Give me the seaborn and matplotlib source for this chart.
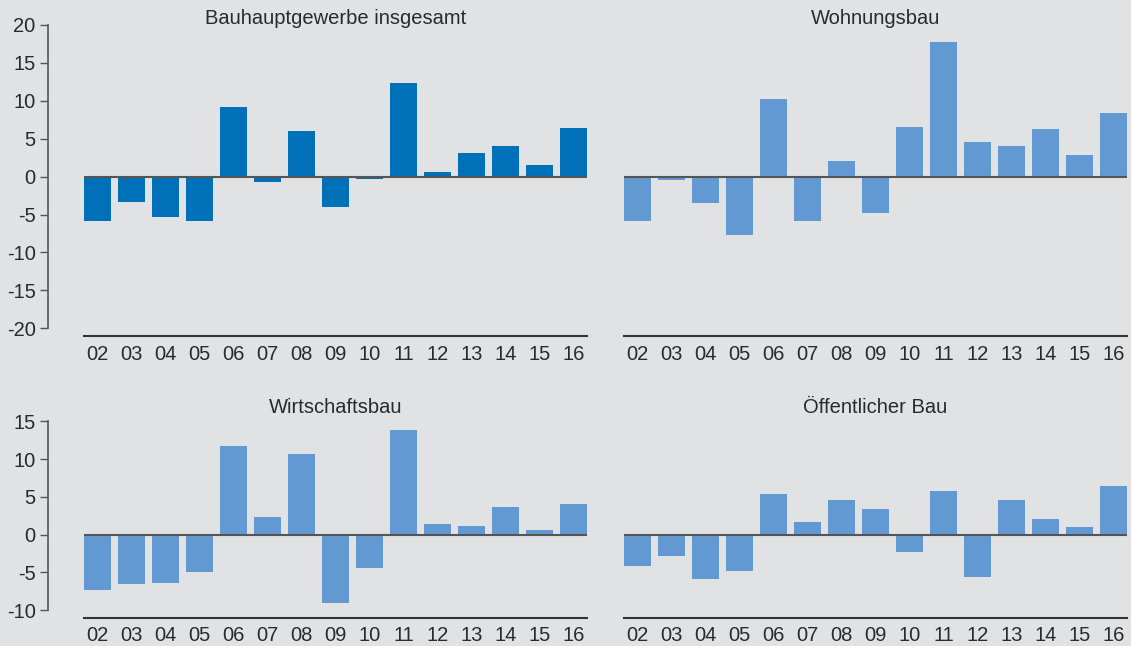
import matplotlib.pyplot as plt
import seaborn as sns

# Jahre (20xx)
years = ['02', '03', '04', '05', '06', '07', '08', '09', '10', '11', '12', '13', '14', '15', '16']

# Veraenderung gegenueber Vorjahr in %
bauhauptgewerbe = [-5.9, -3.4, -5.3, -5.85, 9.2, -0.7, 6.0, -4.05, -0.35, 12.4, 0.6, 3.1, 4.1, 1.6, 6.4]
wohnungsbau = [-5.9, -0.4, -3.5, -7.7, 10.2, -5.8, 2.1, -4.8, 6.6, 17.7, 4.6, 4.0, 6.3, 2.9, 8.4]
wirtschaftsbau = [-7.3, -6.5, -6.4, -4.9, 11.7, 2.3, 10.7, -9.1, -4.4, 13.9, 1.45, 1.2, 3.6, 0.66, 4.0]
oeffentlicher_bau = [-4.2, -2.8, -5.8, -4.8, 5.4, 1.7, 4.6, 3.4, -2.25, 5.8, -5.55, 4.6, 2.1, 1.06, 6.5]

bg = '#e1e2e4'
dark_blue = '#0070b8'
light_blue = '#6399d2'
text_col = '#2a2a2a'

sns.set_theme(style='white')
plt.rcParams['font.family'] = ['Liberation Sans', 'DejaVu Sans']
plt.rcParams['axes.unicode_minus'] = False

fig = plt.figure(figsize=(11.31, 6.46), dpi=100, facecolor=bg)

W, H = 1131, 646
ax_w = 503 / W

# panels: (values, title, color, left px, top px, bottom px, ylim, yticks, show y axis, title pad, xlabel pad)
panels = [
    (bauhauptgewerbe, 'Bauhauptgewerbe insgesamt', dark_blue, 84, 25.0, 335.9, (-21, 20), range(-20, 21, 5), True, 0.7, 6.5),
    (wohnungsbau, 'Wohnungsbau', light_blue, 624, 25.0, 335.9, (-21, 20), range(-20, 21, 5), False, 0.7, 6.5),
    (wirtschaftsbau, 'Wirtschaftsbau', light_blue, 84, 421.3, 618.3, (-11.06, 15), range(-10, 16, 5), True, 6, 5.5),
    (oeffentlicher_bau, 'Öffentlicher Bau', light_blue, 624, 421.3, 618.3, (-11.06, 15), range(-10, 16, 5), False, 6, 5.5),
]

for vals, title, col, left, top, bottom, ylim, yticks, show_y, tpad, xpad in panels:
    ax = fig.add_axes([left / W, 1 - bottom / H, ax_w, (bottom - top) / H])
    ax.set_facecolor(bg)
    sns.barplot(x=years, y=vals, color=col, saturation=1, width=0.8, linewidth=0, ax=ax, zorder=2)
    ax.axhline(0, color='#555555', lw=1.5, zorder=3)
    ax.set_xlim(-0.4, 14.4)
    ax.set_ylim(*ylim)
    ax.set_xlabel('')
    ax.set_ylabel('')

    for s in ['top', 'right']:
        ax.spines[s].set_visible(False)
    ax.spines['bottom'].set_color('#333333')
    ax.spines['bottom'].set_linewidth(1.5)

    ax.tick_params(axis='x', length=0, pad=xpad, labelsize=14.5, labelcolor=text_col)
    if show_y:
        ax.spines['left'].set_position(('axes', -36 / 503))
        ax.spines['left'].set_bounds(min(yticks), max(yticks))
        ax.spines['left'].set_color('#555555')
        ax.spines['left'].set_linewidth(1.2)
        ax.set_yticks(list(yticks))
        ax.tick_params(axis='y', left=True, length=6, width=1, color='#555555',
                       pad=3, labelsize=14.5, labelcolor=text_col)
    else:
        ax.spines['left'].set_visible(False)
        ax.set_yticks([])

    ax.set_title(title, fontsize=14.5, color=text_col, pad=tpad)

fig.savefig('out.png', dpi=100, facecolor=bg)
